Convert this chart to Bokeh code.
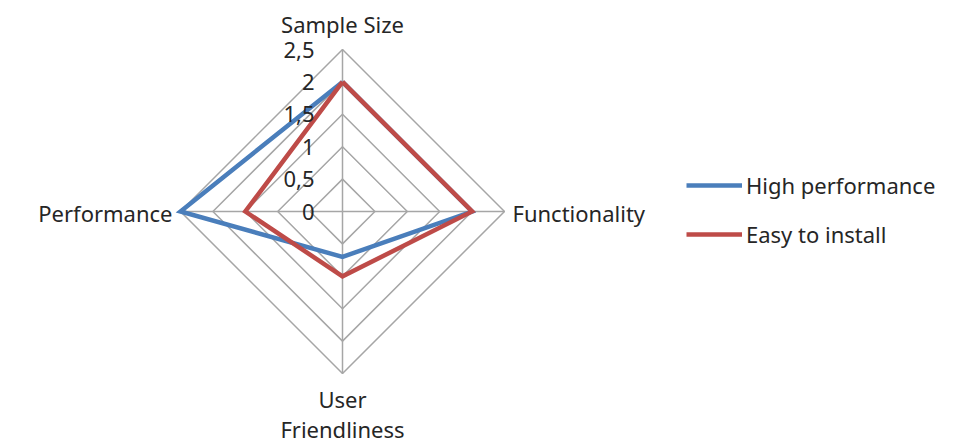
import numpy as np
from bokeh.plotting import figure
from bokeh.models import Range1d, Legend, LegendItem, ColumnDataSource
from bokeh.core.properties import value
from bokeh.embed import file_html
from bokeh.resources import INLINE

categories = ["Sample Size", "Functionality", "User\nFriendliness", "Performance"]
high_performance = [2.0, 2.0, 0.7, 2.5]
easy_to_install = [2.0, 2.0, 1.0, 1.5]
ticks = [0, 0.5, 1.0, 1.5, 2.0, 2.5]
tick_labels = ["0", "0,5", "1", "1,5", "2", "2,5"]
series_names = ["High performance", "Easy to install"]

W, H = 965, 445
CX, CY = 342, 211          # centre of radar in figure pixels (from top-left)
RMAX_PX = 162.0
rmax = max(ticks)
k = RMAX_PX / rmax

FONT = "Noto Sans"
FS = "22px"
GRID = "#a6a6a6"
BLUE = "#4a7ebb"
RED = "#be4b48"

n = len(categories)
ang = np.pi / 2 - np.arange(n) * 2 * np.pi / n

p = figure(width=W, height=H, output_backend="svg", toolbar_location=None,
           x_range=Range1d(-CX, W - CX), y_range=Range1d(-(H - CY), CY),
           min_border=0, outline_line_color=None)
p.axis.visible = False
p.grid.visible = False
p.background_fill_color = "white"

# rings
ring_xs, ring_ys = [], []
for t in ticks[1:]:
    xs = list(np.cos(ang) * t * k) + [np.cos(ang[0]) * t * k]
    ys = list(np.sin(ang) * t * k) + [np.sin(ang[0]) * t * k]
    ring_xs.append(xs)
    ring_ys.append(ys)
p.multi_line(ring_xs, ring_ys, line_color=GRID, line_width=1.5)
# spokes
p.segment(x0=[0] * n, y0=[0] * n, x1=list(np.cos(ang) * rmax * k), y1=list(np.sin(ang) * rmax * k),
          line_color=GRID, line_width=1.5)

renderers = []
for vals, col in [(high_performance, BLUE), (easy_to_install, RED)]:
    v = np.array(vals + [vals[0]])
    a = np.append(ang, ang[0])
    r = p.line(np.cos(a) * v * k, np.sin(a) * v * k, line_color=col, line_width=4.5, line_join="miter")
    renderers.append(r)

# tick labels
p.text(x=[0] * len(ticks), y=[t * k for t in ticks], text=tick_labels, x_offset=-28,
       text_align="right", text_baseline="middle", text_font=value(FONT),
       text_font_size=FS, text_color="#262626")

# category labels
ox = np.cos(ang) * rmax * k
oy = np.sin(ang) * rmax * k
src = ColumnDataSource(dict(
    x=ox, y=oy, text=categories,
    align=["center", "left", "center", "right"],
    base=["bottom", "middle", "top", "middle"],
    xo=[0, 8, 0, -8], yo=[-11, 1, 10, 1]))
p.text(x="x", y="y", text="text", source=src, text_align="align", text_baseline="base",
       x_offset="xo", y_offset="yo", text_font=value(FONT), text_font_size=FS,
       text_color="#262626", text_line_height=1.0)

legend = Legend(items=[LegendItem(label=series_names[0], renderers=[renderers[0]]),
                       LegendItem(label=series_names[1], renderers=[renderers[1]])],
                location=(686, 196), orientation="vertical",
                glyph_width=56, glyph_height=20, label_height=20, spacing=19,
                label_standoff=4, padding=0, margin=0,
                border_line_color=None, background_fill_alpha=0,
                label_text_font=FONT, label_text_font_size=FS, label_text_color="#262626")
p.add_layout(legend, "center")

open("out.html", "w").write(file_html(p, INLINE))
